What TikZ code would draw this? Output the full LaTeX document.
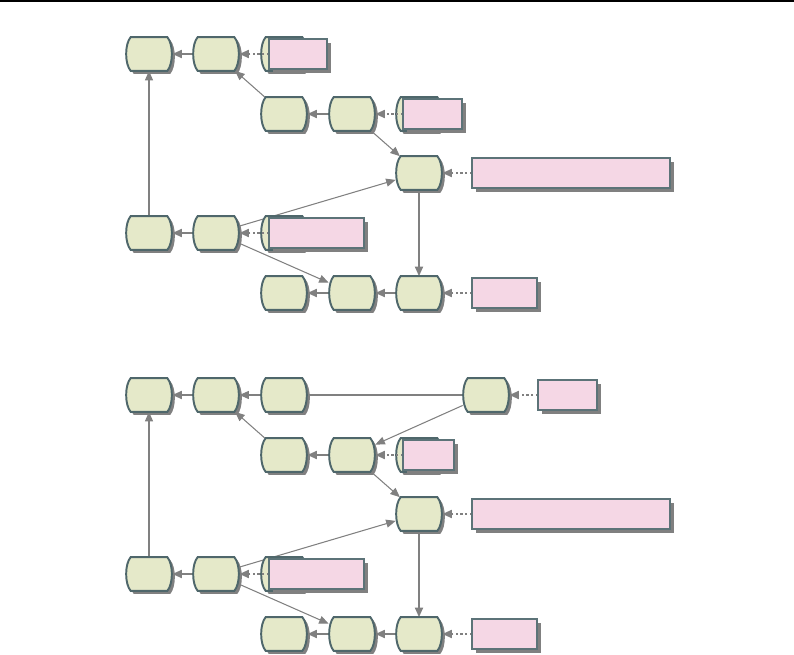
\documentclass[tikz,border=0pt]{standalone}
\usepackage{tikz}
\usetikzlibrary{arrows.meta}
\definecolor{cmfill}{RGB}{229,233,201}
\definecolor{cmline}{RGB}{79,103,107}
\definecolor{refpink}{RGB}{245,215,229}
\definecolor{refline}{RGB}{92,115,120}
\definecolor{edgegray}{RGB}{128,128,128}
\definecolor{shadegray}{RGB}{128,128,128}
% outline of a commit: flat top and bottom, bulging sides
\newcommand\commitpath[1]{([xshift=0.1cm]#1.north west) -- ([xshift=-0.1cm]#1.north east)
  .. controls ([shift={(1,7)}]#1.north east) and ([shift={(1,-7)}]#1.south east) .. ([xshift=-0.1cm]#1.south east)
  -- ([xshift=0.1cm]#1.south west)
  .. controls ([shift={(-1,-7)}]#1.south west) and ([shift={(-1,7)}]#1.north west) .. cycle}

\begin{document}
\begin{tikzpicture}[x=0.02cm, y=-0.02cm,
  commit/.style={minimum width=0.92cm, minimum height=0.66cm, inner sep=0pt},
  reftag/.style={minimum height=0.58cm, inner sep=0pt},
  link/.style={-{Triangle[length=0.19cm,width=0.16cm]}, edgegray, line width=0.6pt},
  hlink/.style={link, line width=1pt},
  refptr/.style={link, line width=1pt, dash pattern=on 1.2pt off 1.4pt}]
\useasboundingbox (0,0) rectangle (794,655);
\fill[black] (0,0) rectangle (794,2);

% Upper graph
\node[commit] (t1a) at (149,54) {};
\node[commit] (t1b) at (216,54) {};
\node[commit] (t1c) at (284,54) {};
\node[commit] (t2a) at (284,114) {};
\node[commit] (t2b) at (352,114) {};
\node[commit] (t2c) at (419,114) {};
\node[commit] (t3) at (419,173) {};
\node[commit] (t4a) at (149,233) {};
\node[commit] (t4b) at (216,233) {};
\node[commit] (t4c) at (284,233) {};
\node[commit] (t5a) at (284,293) {};
\node[commit] (t5b) at (352,293) {};
\node[commit] (t5c) at (419,293) {};
\node[reftag, minimum width=1.16cm] (tr1) at (298,54) {};
\node[reftag, minimum width=1.18cm] (tr2) at (432.5,114) {};
\node[reftag, minimum width=3.96cm] (tr3) at (571,173) {};
\node[reftag, minimum width=1.9cm] (tr4) at (316.5,233) {};
\node[reftag, minimum width=1.3cm] (tr5) at (504.5,293) {};

% Lower graph
\node[commit] (b1a) at (149,395) {};
\node[commit] (b1b) at (216,395) {};
\node[commit] (b1c) at (284,395) {};
\node[commit] (b1d) at (486,395) {};
\node[commit] (b2a) at (284,455) {};
\node[commit] (b2b) at (352,455) {};
\node[commit] (b2c) at (419,455) {};
\node[commit] (b3) at (419,514) {};
\node[commit] (b4a) at (149,574) {};
\node[commit] (b4b) at (216,574) {};
\node[commit] (b4c) at (284,574) {};
\node[commit] (b5a) at (284,634) {};
\node[commit] (b5b) at (352,634) {};
\node[commit] (b5c) at (419,634) {};
\node[reftag, minimum width=1.18cm] (br1) at (567.5,395) {};
\node[reftag, minimum width=1.02cm] (br2) at (428.5,455) {};
\node[reftag, minimum width=3.96cm] (br3) at (571,514) {};
\node[reftag, minimum width=1.9cm] (br4) at (316.5,574) {};
\node[reftag, minimum width=1.3cm] (br5) at (504.5,634) {};

% Parent links
\draw[hlink] (t1b) -- (t1a);
\draw[link] (t2a) -- (t1b);
\draw[hlink] (t2b) -- (t2a);
\draw[link] (t2b) -- (t3);
\draw[link] (t4b) -- (t3);
\draw[hlink] (t3) -- (t5c);
\draw[link] (t4a) -- (t1a);
\draw[hlink] (t4b) -- (t4a);
\draw[link] (t4b) -- (t5b);
\draw[hlink] (t5c) -- (t5b);
\draw[hlink] (t5b) -- (t5a);
\draw[hlink] (b1b) -- (b1a);
\draw[link] (b1d) -- (b1b);
\draw[link] (b1d) -- (b2b);
\draw[link] (b2a) -- (b1b);
\draw[hlink] (b2b) -- (b2a);
\draw[link] (b2b) -- (b3);
\draw[link] (b4b) -- (b3);
\draw[hlink] (b3) -- (b5c);
\draw[link] (b4a) -- (b1a);
\draw[hlink] (b4b) -- (b4a);
\draw[link] (b4b) -- (b5b);
\draw[hlink] (b5c) -- (b5b);
\draw[hlink] (b5b) -- (b5a);

% Commits with shadow
\foreach \c in {t1a,t1b,t1c,t2a,t2b,t2c,t3,t4a,t4b,t4c,t5a,t5b,t5c,
                b1a,b1b,b1c,b1d,b2a,b2b,b2c,b3,b4a,b4b,b4c,b5a,b5b,b5c}{
  \begin{scope}[transform canvas={shift={(3,3)}}]
    \fill[shadegray] \commitpath{\c};
  \end{scope}
  \draw[cmline, line width=1.1pt, fill=cmfill] \commitpath{\c};
}

% Ref pointers
\draw[refptr] (tr1) -- (t1b);
\draw[refptr] (tr2) -- (t2b);
\draw[refptr] (tr3) -- (t3);
\draw[refptr] (tr4) -- (t4b);
\draw[refptr] (tr5) -- (t5c);
\draw[refptr] (br1) -- (b1d);
\draw[refptr] (br2) -- (b2b);
\draw[refptr] (br3) -- (b3);
\draw[refptr] (br4) -- (b4b);
\draw[refptr] (br5) -- (b5c);

% Ref tags
\foreach \r in {tr1,tr2,tr3,tr4,tr5,br1,br2,br3,br4,br5}{
  \fill[shadegray] ([shift={(4,4)}]\r.north west) rectangle ([shift={(4,4)}]\r.south east);
  \draw[refline, line width=1pt, fill=refpink] (\r.north west) rectangle (\r.south east);
}
\end{tikzpicture}
\end{document}
